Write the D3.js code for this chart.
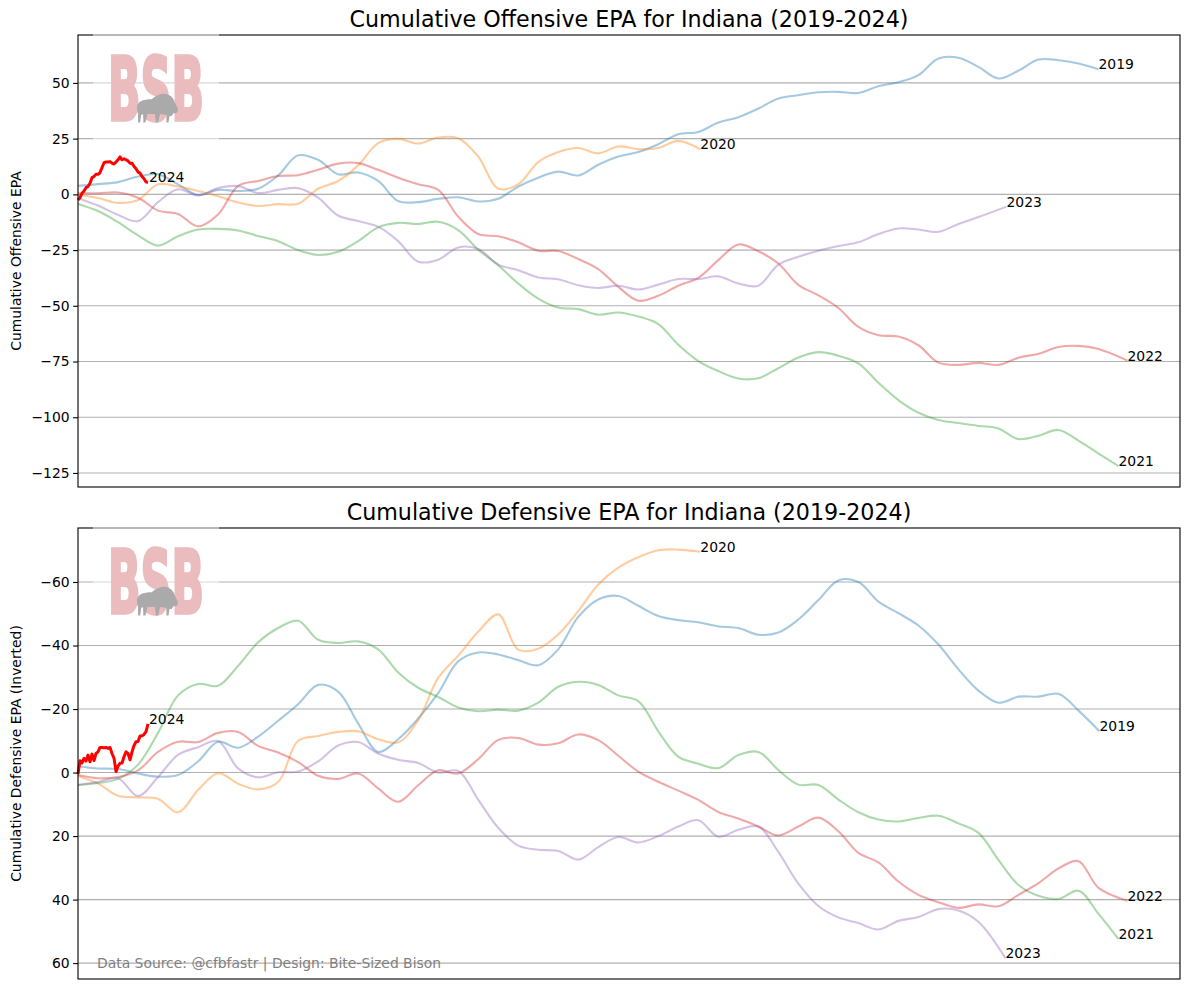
<!DOCTYPE html>
<html>
<head>
<meta charset="utf-8">
<script src="https://cdn.jsdelivr.net/npm/d3@7"></script>
<style>
  body { margin: 0; background: #fff; }
  text { font-family: "DejaVu Sans", sans-serif; }
</style>
</head>
<body>
<div id="chart"></div>
<script>
// seasons drawn as faded lines, 2024 drawn on top in solid red
var years = ["2019", "2020", "2021", "2022", "2023"];
var currentYear = "2024";
var step = 20;        // plays between samples for the smoothed seasons
var recentStep = 2;   // plays between samples for 2024

var offPlays = [1020, 622, 1040, 1049, 928];
var defPlays = [1021, 622, 1040, 1049, 927];
var recentPlays = 70;

var offTicks = [50, 25, 0, -25, -50, -75, -100, -125];
var defTicks = [-60, -40, -20, 0, 20, 40, 60];

var off2019 = [3.8, 4.6, 5.5, 8.0, 9.0, 4.5, -0.3, 2.0, 1.5, 2.5, 8.5, 17.5, 15.5, 9.0, 9.8, 6.0, -3.0, -3.5, -2.0, -1.3, -3.2, -2.0, 3.5, 7.5, 10.2, 8.5, 13.3, 17.0, 19.0, 22.5, 27.0, 28.0, 32.2, 34.6, 38.5, 43.0, 44.5, 45.8, 46.0, 45.5, 48.5, 50.3, 53.5, 61.0, 61.3, 57.2, 52.0, 55.5, 60.5, 60.2, 58.7, 56.1];
var off2020 = [-0.3, -1.6, -3.8, -2.5, 4.5, 3.5, 1.5, -0.8, -3.6, -5.2, -4.4, -4.2, 2.5, 6.0, 13.0, 23.0, 24.9, 22.8, 25.5, 25.2, 17.0, 2.6, 4.5, 14.5, 19.0, 20.8, 18.4, 21.5, 20.3, 20.8, 24.0, 20.2];
var off2021 = [-4.3, -7.5, -12.5, -18.4, -23.0, -18.8, -15.8, -15.5, -16.2, -18.7, -21.0, -25.0, -27.2, -25.8, -21.0, -14.8, -12.8, -13.3, -12.3, -16.0, -24.8, -31.8, -40.0, -46.8, -50.8, -51.5, -54.0, -53.0, -54.8, -58.2, -67.5, -74.8, -79.3, -82.6, -82.5, -78.0, -73.2, -70.8, -72.4, -75.8, -84.5, -92.3, -98.0, -101.2, -102.6, -103.9, -105.0, -109.8, -108.3, -105.7, -110.5, -116.3, -121.9];
var off2022 = [0.5, 0.5, 0.8, -1.5, -7.3, -8.8, -14.3, -9.0, 3.8, 6.0, 8.2, 8.6, 11.0, 13.8, 14.0, 11.0, 7.5, 4.5, 2.0, -10.0, -17.8, -18.8, -21.5, -25.3, -25.4, -29.0, -33.5, -41.5, -47.7, -45.5, -41.0, -37.5, -29.5, -22.5, -25.5, -31.0, -40.6, -45.3, -51.0, -59.5, -63.2, -63.8, -67.7, -75.5, -76.5, -75.6, -76.5, -73.3, -71.5, -68.5, -68.0, -69.4, -74.6];
var off2023 = [-1.7, -5.0, -9.2, -12.0, -3.5, 2.3, -0.5, 2.8, 3.7, 0.6, 2.0, 2.8, -1.5, -9.5, -12.0, -14.5, -21.0, -30.2, -29.3, -23.8, -24.5, -31.5, -34.0, -37.3, -38.1, -40.8, -42.0, -41.0, -42.7, -40.5, -38.0, -38.0, -36.8, -40.0, -41.0, -31.5, -28.0, -25.3, -23.2, -21.5, -17.8, -15.3, -15.8, -16.8, -13.3, -10.2, -5.5];
var off2024 = [-2.5, -1.5, 0.5, 1.5, 3.0, 3.5, 5.0, 7.5, 8.0, 9.0, 9.0, 9.8, 12.0, 14.2, 14.5, 14.5, 14.7, 14.0, 13.6, 14.5, 15.5, 16.8, 15.5, 16.0, 15.5, 15.0, 14.0, 14.0, 12.5, 11.5, 10.0, 9.5, 8.0, 7.0, 5.5, 5.4];

var def2019 = [-2.0, -1.3, -1.1, 0.3, 1.3, 0.8, -3.5, -9.7, -7.8, -11.3, -16.3, -21.5, -27.6, -25.5, -15.5, -6.5, -10.5, -17.0, -25.0, -35.0, -37.8, -37.2, -35.4, -33.8, -38.8, -49.0, -54.5, -55.6, -52.5, -49.3, -48.0, -47.3, -46.0, -45.5, -43.4, -44.1, -48.2, -54.3, -60.5, -60.0, -53.8, -50.2, -46.3, -40.3, -32.5, -25.8, -22.0, -23.9, -23.9, -24.8, -19.5, -13.0];
var def2020 = [1.1, 3.5, 7.3, 7.8, 8.3, 12.5, 5.5, 0.2, 3.5, 5.3, 3.0, -10.0, -11.5, -12.8, -13.0, -10.5, -9.5, -16.5, -29.8, -36.8, -44.3, -49.8, -38.7, -39.0, -43.5, -50.8, -59.2, -64.5, -67.8, -70.0, -70.2, -69.5];
var def2021 = [3.9, 3.3, 2.0, -2.5, -12.5, -24.3, -27.9, -27.3, -33.6, -41.0, -45.5, -47.8, -41.8, -40.8, -41.3, -38.8, -31.5, -26.7, -23.8, -20.5, -19.3, -19.8, -19.5, -22.0, -27.0, -28.6, -27.6, -24.3, -22.5, -13.0, -5.0, -2.8, -1.4, -5.5, -6.5, -0.8, 3.8, 3.9, 8.5, 12.5, 14.8, 15.4, 14.3, 13.6, 16.0, 19.0, 27.5, 35.4, 38.8, 39.8, 37.2, 44.5, 52.4];
var def2022 = [0.8, 1.8, 1.4, -0.7, -6.5, -9.7, -9.6, -12.5, -12.8, -8.4, -6.3, -3.3, 1.0, 2.0, 0.3, 5.0, 9.2, 4.0, -0.7, 0.3, -4.2, -10.3, -10.9, -8.8, -9.2, -12.0, -10.2, -5.3, -0.3, 2.9, 5.7, 8.6, 12.4, 14.5, 17.0, 19.8, 17.0, 14.2, 18.5, 25.3, 28.3, 34.3, 38.5, 40.8, 42.6, 41.5, 42.1, 38.5, 34.8, 30.2, 27.9, 36.3, 40.4];
var def2023 = [3.9, 3.0, 1.8, 7.4, 1.4, -5.6, -8.0, -9.9, -1.3, 1.5, -0.1, -0.3, -3.5, -8.5, -9.6, -6.0, -4.0, -3.0, 0.0, -0.5, 8.5, 17.4, 23.0, 24.3, 24.7, 27.4, 23.5, 20.3, 22.0, 20.0, 17.0, 15.0, 20.2, 18.0, 17.0, 25.0, 35.0, 42.0, 45.6, 47.4, 49.4, 46.7, 45.5, 43.0, 43.4, 47.0, 58.5];
var def2024 = [0.5, -3.7, -3.0, -4.5, -3.6, -5.5, -3.4, -5.8, -3.8, -6.0, -6.5, -7.9, -7.9, -7.8, -7.9, -7.6, -7.9, -6.0, -4.5, -0.3, -2.0, -2.9, -3.0, -5.0, -6.5, -6.0, -4.0, -6.5, -8.5, -9.7, -9.8, -11.5, -11.6, -12.0, -12.9, -15.3];

var COLORS = ["#1f77b4", "#ff7f0e", "#2ca02c", "#d62728", "#9467bd"];
var RECENT_COLOR = "#ff0000";
var GRID_COLOR = "#b0b0b0";

var width = 1189, height = 989;
var left = 78, right = 1180;

var svg = d3.select("#chart").append("svg")
    .attr("width", width).attr("height", height);

// turn a sampled series into [play, value] points
function toPoints(values, plays, every) {
  return values.map(function(v, i) {
    var x = (i == values.length - 1) ? plays : i * every;
    return [x, v];
  });
}

var maxPlays = d3.max(offPlays.concat(defPlays));
var x = d3.scaleLinear().domain([0, maxPlays * 1.05]).range([left, right]);

var panels = [
  {
    title: "Cumulative Offensive EPA for Indiana (2019-2024)",
    ylabel: "Cumulative Offensive EPA",
    top: 35, bottom: 487,
    domain: [-131.3, 71.5], inverted: false,
    ticks: offTicks,
    series: [off2019, off2020, off2021, off2022, off2023],
    plays: offPlays,
    recent: off2024
  },
  {
    title: "Cumulative Defensive EPA for Indiana (2019-2024)",
    ylabel: "Cumulative Defensive EPA (Inverted)",
    top: 528, bottom: 979,
    domain: [-77, 65], inverted: true,
    ticks: defTicks,
    series: [def2019, def2020, def2021, def2022, def2023],
    plays: defPlays,
    recent: def2024
  }
];

panels.forEach(function(p) {
  var y = d3.scaleLinear().domain(p.domain)
      .range(p.inverted ? [p.top, p.bottom] : [p.bottom, p.top]);
  var g = svg.append("g");

  // horizontal grid
  g.selectAll("line.grid").data(p.ticks).enter().append("line")
    .attr("class", "grid")
    .attr("x1", left).attr("x2", right)
    .attr("y1", function(d) { return y(d); })
    .attr("y2", function(d) { return y(d); })
    .attr("stroke", GRID_COLOR).attr("stroke-width", 1.1);

  var line = d3.line()
    .x(function(d) { return x(d[0]); })
    .y(function(d) { return y(d[1]); })
    .curve(d3.curveCatmullRom.alpha(0.5));

  p.series.forEach(function(vals, i) {
    var pts = toPoints(vals, p.plays[i], step);
    g.append("path").datum(pts)
      .attr("d", line)
      .attr("fill", "none")
      .attr("stroke", COLORS[i])
      .attr("stroke-opacity", 0.4)
      .attr("stroke-width", 2.1);
    var last = pts[pts.length - 1];
    g.append("text")
      .attr("x", x(last[0])).attr("y", y(last[1]))
      .attr("font-size", "13.9px")
      .text(years[i]);
  });

  var recentPts = toPoints(p.recent, recentPlays, recentStep);
  g.append("path").datum(recentPts)
    .attr("d", d3.line().x(function(d) { return x(d[0]); }).y(function(d) { return y(d[1]); }))
    .attr("fill", "none")
    .attr("stroke", RECENT_COLOR)
    .attr("stroke-width", 3)
    .attr("stroke-linejoin", "round");
  var lastR = recentPts[recentPts.length - 1];
  g.append("text")
    .attr("x", x(lastR[0]) + 1).attr("y", y(lastR[1]))
    .attr("font-size", "13.9px")
    .text(currentYear);

  // frame
  g.append("rect")
    .attr("x", left).attr("y", p.top)
    .attr("width", right - left).attr("height", p.bottom - p.top)
    .attr("fill", "none").attr("stroke", "#000").attr("stroke-width", 1.1);

  // y axis ticks and labels
  var axis = d3.axisLeft(y).tickValues(p.ticks).tickSize(4.9).tickPadding(3.5);
  var ag = g.append("g").attr("transform", "translate(" + left + ",0)").call(axis);
  ag.select(".domain").remove();
  ag.selectAll("text").attr("font-size", "13.9px").attr("fill", "#000")
    .attr("font-family", "DejaVu Sans");
  ag.selectAll("line").attr("stroke", "#000").attr("stroke-width", 1.1);

  g.append("text")
    .attr("x", 629).attr("y", p.top - 8)
    .attr("text-anchor", "middle")
    .attr("font-size", "22.2px")
    .text(p.title);

  g.append("text")
    .attr("transform", "translate(21," + ((p.top + p.bottom) / 2) + ") rotate(-90)")
    .attr("text-anchor", "middle")
    .attr("font-size", "13.9px")
    .text(p.ylabel);

  // BSB logo, white half-transparent box over the frame
  var cy = p.top + 53;
  var logo = g.append("g");
  logo.append("rect")
    .attr("x", 93).attr("y", cy - 63).attr("width", 126).attr("height", 126)
    .attr("fill", "#fff").attr("fill-opacity", 0.5);
  logo.append("text")
    .attr("x", 108).attr("y", cy + 32)
    .attr("font-size", "87px").attr("font-weight", "bold")
    .attr("textLength", 96).attr("lengthAdjust", "spacingAndGlyphs")
    .attr("fill", "#ebbcbe")
    .attr("stroke", "#ebbcbe").attr("stroke-width", 3.5)
    .attr("stroke-linejoin", "miter")
    .text("BSB");
  logo.append("path")
    .attr("transform", "translate(137," + (cy + 5) + ") scale(1.05)")
    .attr("fill", "#aaaaaa")
    .attr("d", "M0,14 C0,8 6,6 14,6 C18,2 24,0 28,1 C32,2 35,5 36,9 L39,15 C39,19 37,20 35,19 L33,22 L31,22 L30,28 L28,28 L28,21 L22,20 L20,28 L18,28 L17,20 L10,20 L8,28 L6,28 L6,20 L4,21 L3,28 L1,28 L1,20 C0,18 0,16 0,14 Z");
});

svg.append("text")
  .attr("x", 97).attr("y", 968)
  .attr("font-size", "13.9px")
  .attr("fill", "#808080")
  .text("Data Source: @cfbfastr | Design: Bite-Sized Bison");
</script>
</body>
</html>
